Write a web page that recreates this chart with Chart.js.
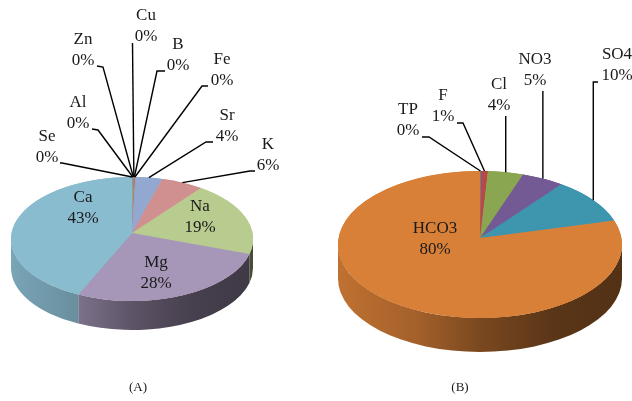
<!DOCTYPE html>
<html>
<head>
<meta charset="utf-8">
<style>
  html, body { margin: 0; padding: 0; background: #fff; }
  canvas { position: absolute; left: 0; top: 0; }
</style>
<script src="https://cdn.jsdelivr.net/npm/chart.js@4"></script>
</head>
<body>
<canvas id="pieA" width="632" height="401"></canvas>
<canvas id="pieB" width="632" height="401"></canvas>
<script>
// chart data
const cationLabels = ['Se', 'Al', 'Zn', 'Cu', 'B', 'Fe', 'Sr', 'K', 'Na', 'Mg', 'Ca'];
const cationValues = [0.07, 0.07, 0.07, 0.07, 0.07, 0.07, 3.6, 5.6, 19.2, 28.4, 42.6];
const anionLabels = ['TP', 'F', 'Cl', 'NO3', 'SO4', 'HCO3'];
const anionValues = [0.1, 0.8, 4.0, 4.8, 10.0, 80.3];

const cationColors = ['#4f8fa3', '#d98038', '#8fa5cb', '#7d6a9c', '#8ba650', '#b84a45',
  '#93a8d0', '#d09090', '#b8cc90', '#a696b8', '#8abcd0'];
const anionColors = ['#4f81bd', '#b84a45', '#8ba650', '#745a94', '#3e95ae', '#d98038'];

// label centre [x, y], leader line start and elbow. null x = straight up from the slice
const cationLayout = {
  Se: { text: [47, 137], leader: [[60, 163], [62, 163]] },
  Al: { text: [78, 103], leader: [[92, 129], [98, 130]] },
  Zn: { text: [83, 40], leader: [[97, 66], [103, 67]] },
  Cu: { text: [146, 16], leader: [[132.5, 43], [132.5, 43]] },
  B: { text: [178, 45], leader: [[165, 71], [157, 71]] },
  Fe: { text: [222, 60], leader: [[208, 86], [202, 86]] },
  Sr: { text: [227, 116], leader: [[213, 142], [206, 142]] },
  K: { text: [268, 145], leader: [[255, 171], [250, 171]] },
  Na: { text: [200, 207] },
  Mg: { text: [156, 263] },
  Ca: { text: [83, 198] },
};
const anionLayout = {
  TP: { text: [408, 110], leader: [[422, 137], [429, 137]] },
  F: { text: [443, 96], leader: [[457, 123], [463, 123]] },
  Cl: { text: [499, 85], leader: [[null, 116], [null, 116]] },
  NO3: { text: [535, 60], leader: [[null, 91], [null, 91]] },
  SO4: { text: [617, 55], leader: [[598, 82], [null, 82]] },
  HCO3: { text: [435, 229] },
};

function shade(hex, f) {
  const n = parseInt(hex.slice(1), 16);
  const r = Math.round(((n >> 16) & 255) * f);
  const g = Math.round(((n >> 8) & 255) * f);
  const b = Math.round((n & 255) * f);
  return `rgb(${r},${g},${b})`;
}

// flattens the pie into an ellipse and puts a side wall under it
const tiltPlugin = {
  id: 'tilt',
  beforeDatasetsDraw(chart, args, opts) {
    const ctx = chart.ctx;
    const arcs = chart.getDatasetMeta(0).data;
    const colors = chart.data.datasets[0].backgroundColor;
    const cx = arcs[0].x;
    const r = arcs[0].outerRadius;
    const ry = r * opts.ratio;

    arcs.forEach((arc, i) => {
      const a1 = Math.max(arc.startAngle, 0);
      const a2 = Math.min(arc.endAngle, Math.PI);
      if (a2 <= a1) return;
      const grad = ctx.createLinearGradient(cx - r, 0, cx + r, 0);
      grad.addColorStop(0, shade(colors[i], 0.88));
      grad.addColorStop(0.27, shade(colors[i], 0.76));
      grad.addColorStop(0.5, shade(colors[i], 0.56));
      grad.addColorStop(0.75, shade(colors[i], 0.42));
      grad.addColorStop(1, shade(colors[i], 0.38));
      ctx.beginPath();
      ctx.ellipse(cx, opts.cy, r, ry, 0, a1, a2);
      ctx.ellipse(cx, opts.cy + opts.depth, r, ry, 0, a2, a1, true);
      ctx.closePath();
      ctx.fillStyle = grad;
      ctx.fill();
    });

    ctx.save();
    ctx.translate(cx, opts.cy);
    ctx.scale(1, opts.ratio);
    ctx.translate(-cx, -arcs[0].y);
  },
  afterDatasetsDraw(chart, args, opts) {
    const ctx = chart.ctx;
    ctx.restore();

    const meta = chart.getDatasetMeta(0);
    const colors = chart.data.datasets[0].backgroundColor;
    const values = chart.data.datasets[0].data;
    const total = values.reduce((a, b) => a + b, 0);
    ctx.save();

    // perspective: the slices meet a bit above the middle of the ellipse
    meta.data.forEach((arc, i) => {
      ctx.beginPath();
      ctx.moveTo(arc.x, opts.apexY);
      ctx.ellipse(arc.x, opts.cy, arc.outerRadius, arc.outerRadius * opts.ratio, 0, arc.startAngle, arc.endAngle);
      ctx.closePath();
      ctx.fillStyle = colors[i];
      ctx.fill();
    });

    chart.data.labels.forEach((label, i) => {
      const item = opts.layout[label];
      const arc = meta.data[i];

      if (item.leader) {
        const mid = (arc.startAngle + arc.endAngle) / 2;
        const ax = arc.x + Math.cos(mid) * arc.outerRadius;
        const ay = opts.cy + Math.sin(mid) * arc.outerRadius * opts.ratio;
        ctx.beginPath();
        ctx.moveTo(item.leader[0][0] ?? ax, item.leader[0][1]);
        ctx.lineTo(item.leader[1][0] ?? ax, item.leader[1][1]);
        ctx.lineTo(ax, ay);
        ctx.strokeStyle = '#000';
        ctx.lineWidth = 1.4;
        ctx.stroke();
      }

      ctx.fillStyle = '#1a1a1a';
      ctx.font = '17px "Liberation Serif"';
      ctx.textAlign = 'center';
      ctx.textBaseline = 'middle';
      ctx.fillText(label, item.text[0], item.text[1]);
      ctx.fillText(Math.round(values[i] / total * 100) + '%', item.text[0], item.text[1] + 21);
    });
    ctx.font = '13px "Liberation Serif"';
    ctx.fillText(opts.caption[0], opts.caption[1], opts.caption[2]);
    ctx.restore();
  },
};

function makePie(id, labels, values, colors, padding, tilt) {
  return new Chart(document.getElementById(id).getContext('2d'), {
    type: 'pie',
    data: {
      labels: labels,
      datasets: [{ data: values, backgroundColor: colors, borderWidth: 0, clip: false }],
    },
    options: {
      responsive: false,
      animation: false,
      layout: { padding: padding },
      plugins: {
        legend: { display: false },
        tooltip: { enabled: false },
        tilt: tilt,
      },
    },
    plugins: [tiltPlugin],
  });
}

makePie('pieA', cationLabels, cationValues, cationColors,
  { left: 11, right: 379, top: 79.5, bottom: 79.5 },
  { cy: 239, apexY: 233, ratio: 62 / 121, depth: 29, layout: cationLayout, caption: ['(A)', 138, 388] });

makePie('pieB', anionLabels, anionValues, anionColors,
  { left: 338, right: 10, top: 58.5, bottom: 58.5 },
  { cy: 244.5, apexY: 238, ratio: 73.5 / 142, depth: 34, layout: anionLayout, caption: ['(B)', 460, 388] });
</script>
</body>
</html>
